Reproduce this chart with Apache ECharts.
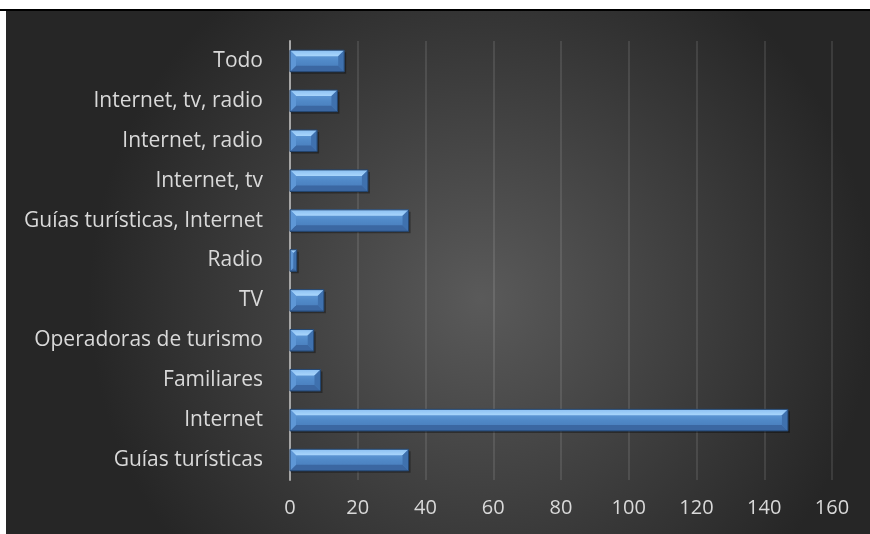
<!DOCTYPE html>
<html>
<head>
<meta charset="utf-8">
<script src="https://cdn.jsdelivr.net/npm/echarts@6/dist/echarts.min.js"></script>
<style>
  body { margin: 0; background: #fff; width: 870px; height: 534px; overflow: hidden; position: relative; }
  #topline { position: absolute; left: 0; top: 9px; width: 870px; height: 2px; background: #000; }
  #chart { position: absolute; left: 6px; top: 11px; width: 864px; height: 523px; }
</style>
</head>
<body>
<div id="topline"></div>
<div id="chart"></div>
<script>
// categories, bottom to top
var categories = ['Guías turísticas', 'Internet', 'Familiares', 'Operadoras de turismo', 'TV', 'Radio',
  'Guías turísticas, Internet', 'Internet, tv', 'Internet, radio', 'Internet, tv, radio', 'Todo'];
var values = [35, 147, 9, 7, 10, 2, 35, 23, 8, 14, 16];
var xTicks = [0, 20, 40, 60, 80, 100, 120, 140, 160];

var chart = echarts.init(document.getElementById('chart'));

// bar drawn as a bevelled block
function renderBar(params, api) {
  var cat = api.value(0), val = api.value(1);
  var p0 = api.coord([0, cat]);
  var p1 = api.coord([val, cat]);
  var h = api.size([0, 1])[1] * 0.54;
  var x0 = p0[0], x1 = p1[0];
  var y0 = p0[1] - h / 2, y1 = p0[1] + h / 2;
  var b = Math.min(6, (x1 - x0) / 2);
  return {
    type: 'group',
    children: [
      { type: 'rect', shape: { x: x0 + 1, y: y0 + 2, width: x1 - x0 + 1, height: h },
        style: { fill: 'rgba(0,0,0,0.35)' } },
      { type: 'rect', shape: { x: x0, y: y0, width: x1 - x0, height: h },
        style: { fill: new echarts.graphic.LinearGradient(0, 0, 0, 1, [
          { offset: 0, color: '#6aa3e0' }, { offset: 0.5, color: '#5089c8' }, { offset: 1, color: '#4679b8' }]) } },
      { type: 'polygon', shape: { points: [[x0, y0], [x1, y0], [x1 - b, y0 + b], [x0 + b, y0 + b]] },
        style: { fill: new echarts.graphic.LinearGradient(0, 0, 0, 1, [
          { offset: 0, color: '#8cc0f2' }, { offset: 1, color: '#a9d6fc' }]) } },
      { type: 'polygon', shape: { points: [[x0, y1], [x1, y1], [x1 - b, y1 - b], [x0 + b, y1 - b]] },
        style: { fill: '#3b67a2' } },
      { type: 'polygon', shape: { points: [[x0, y0], [x0 + b, y0 + b], [x0 + b, y1 - b], [x0, y1]] },
        style: { fill: '#5e97d6' } },
      { type: 'polygon', shape: { points: [[x1, y0], [x1 - b, y0 + b], [x1 - b, y1 - b], [x1, y1]] },
        style: { fill: '#3f71ae' } },
      { type: 'rect', shape: { x: x0, y: y0, width: x1 - x0, height: h },
        style: { fill: 'none', stroke: '#23456f', lineWidth: 1 } }
    ]
  };
}

var option = {
  backgroundColor: new echarts.graphic.RadialGradient(0.55, 0.55, 0.75, [
    { offset: 0, color: '#5a5a5a' }, { offset: 1, color: '#262626' }]),
  grid: { left: 284, right: 38, top: 30, bottom: 54 },
  xAxis: {
    type: 'value', min: 0, max: 160, interval: 20,
    axisLine: { show: false }, axisTick: { show: false },
    axisLabel: { color: '#d9d9d9', fontSize: 20, fontFamily: 'Open Sans', margin: 18 },
    splitLine: { show: true, lineStyle: { color: 'rgba(255,255,255,0.1)', width: 2 } }
  },
  yAxis: {
    type: 'category', data: categories,
    axisLine: { show: true, lineStyle: { color: '#a6a6a6', width: 2 } },
    axisTick: { show: false },
    axisLabel: { color: '#d9d9d9', fontSize: 21, fontFamily: 'Open Sans', margin: 27 }
  },
  series: [{
    type: 'custom',
    renderItem: renderBar,
    encode: { x: 1, y: 0 },
    data: values.map(function (v, i) { return [i, v]; }),
    z: 3
  }]
};
chart.setOption(option);
</script>
</body>
</html>
